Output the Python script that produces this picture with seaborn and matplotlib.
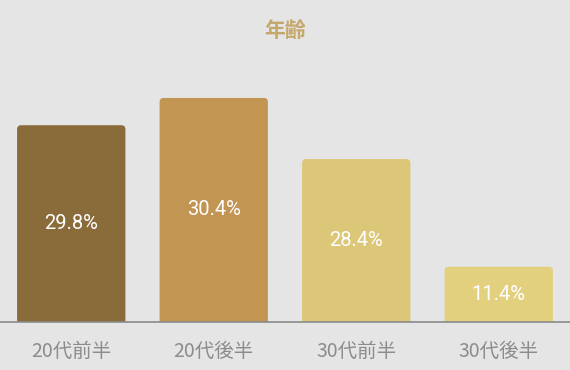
import numpy as np
import pandas as pd
import matplotlib
matplotlib.use('Agg')
import matplotlib.pyplot as plt
import seaborn as sns
from matplotlib.patches import FancyBboxPatch

categories = ['20代前半', '20代後半', '30代前半', '30代後半']
pct_labels = [29.8, 30.4, 28.4, 11.4]
# bar lengths as drawn in the reference (same units, tallest bar = 30.4)
bar_heights = [26.7, 30.4, 22.1, 7.5]
colors = ['#8a6c3b', '#c39553', '#dcc677', '#e3d07f']

df = pd.DataFrame({'age': categories, 'height': bar_heights})

sns.set_theme(style='white')
plt.rcParams['font.family'] = ['Noto Sans CJK JP', 'DejaVu Sans']

bg = '#e5e5e5'
fig = plt.figure(figsize=(5.7, 3.7), dpi=100, facecolor=bg)
ax = fig.add_axes([0, 48 / 370, 1, 322 / 370])
ax.set_facecolor(bg)

sns.barplot(data=df, x='age', y='height', hue='age', palette=colors,
            width=0.76, legend=False, ax=ax)
ax.set_xlim(-0.5, 3.5)
ymax = 322 / 7.37
ax.set_ylim(0, ymax)

# swap the plain bars for ones with rounded top corners
px_x = 570 / 4
px_y = 322 / ymax
for p, c in zip(list(ax.patches), colors):
    x, w, h = p.get_x(), p.get_width(), p.get_height()
    p.remove()
    r = FancyBboxPatch((x, -2), w, h + 2,
                       boxstyle='round,pad=0,rounding_size=%f' % (4 / px_x),
                       mutation_aspect=px_x / px_y,
                       facecolor=c, edgecolor='none', zorder=2)
    ax.add_patch(r)

for i, (h, v) in enumerate(zip(bar_heights, pct_labels)):
    ax.text(i, h / 2, f'{v}%', ha='center', va='center', color='white',
            fontsize=14.5, family=['Roboto', 'DejaVu Sans'], zorder=3)

sns.despine(ax=ax, left=True, top=True, right=True)
ax.spines['bottom'].set_color('#8a8a8a')
ax.spines['bottom'].set_linewidth(1.2)
ax.spines['bottom'].set_zorder(4)
ax.set_yticks([])
ax.set_xlabel('')
ax.set_ylabel('')
ax.tick_params(axis='x', length=0, pad=14, labelsize=14, labelcolor='#8c8c8c')

fig.text(0.5, 1 - 30 / 370, '年齢', ha='center', va='center', fontsize=15,
         fontweight='bold', color='#c4a86b')

fig.savefig('out.png', dpi=100, facecolor=bg)
